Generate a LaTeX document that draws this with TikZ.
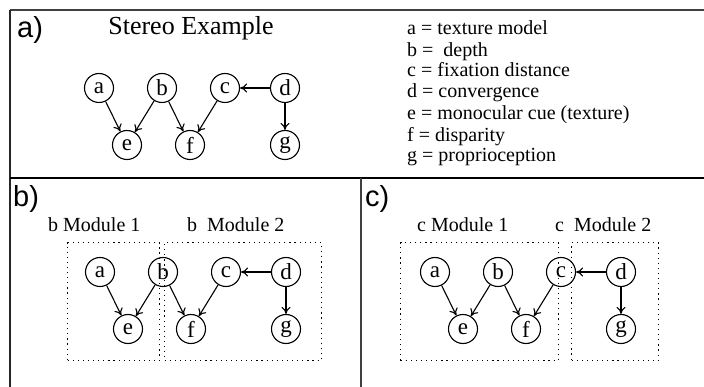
\documentclass[tikz,border=0pt]{standalone}
\usepackage{fontspec}
\setmainfont{Liberation Serif}
\newfontfamily\labfont{Liberation Sans}
\usetikzlibrary{arrows.meta}
\tikzset{
  vnode/.style={circle,draw,line width=1.1pt,minimum size=29pt,inner sep=0pt,font=\fontsize{23}{23}\selectfont},
  arr/.style={-{To[length=7pt,width=9pt]},line width=1.1pt},
  modbox/.style={draw,line width=1.1pt,dash pattern=on 1.2pt off 3.9pt},
  panlab/.style={anchor=base west,inner sep=0pt,font=\labfont\fontsize{29}{29}\selectfont},
  modlab/.style={anchor=base west,inner sep=0pt,font=\fontsize{20}{20}\selectfont},
  legend/.style={anchor=base west,inner sep=0pt,font=\fontsize{20}{20}\selectfont},
  net/.pic={
    \node[vnode] (-a) at (0,0) {a};
    \node[vnode] (-b) at (63,0) {b};
    \node[vnode] (-c) at (126,0) {c};
    \node[vnode] (-d) at (186,0) {d};
    \node[vnode] (-e) at (28,57) {e};
    \node[vnode] (-f) at (91,57) {f};
    \node[vnode] (-g) at (186,57) {g};
    \draw[arr] (-a) -- (-e);
    \draw[arr] (-b) -- (-e);
    \draw[arr] (-b) -- (-f);
    \draw[arr] (-c) -- (-f);
    \draw[arr] (-d) -- (-c);
    \draw[arr] (-d) -- (-g);
  }
}
\begin{document}
\begin{tikzpicture}[x=1pt,y=-1pt]
\useasboundingbox (0,0) rectangle (704,387);
% frame
\coordinate (tl) at (10,10);
\coordinate (tr) at (704,10);
\coordinate (bl) at (10,387);
\coordinate (sl) at (10,178);
\coordinate (sr) at (704,178);
\coordinate (dt) at (361,178);
\coordinate (db) at (361,387);
\draw[line width=1.5pt,black!75] (tl) -- (tr);
\draw[line width=1.5pt,black!85] (tl) -- (bl);
\draw[line width=2.4pt] (sl) -- (sr);
\draw[line width=1.4pt,black!75] (dt) -- (db);

% panel a
\node[panlab] (la) at (17,38) {a)};
\node[anchor=base,inner sep=0pt,font=\fontsize{26}{26}\selectfont] (title) at (191,35) {Stereo Example};
\pic (A) at (99,88) {net};
\node[legend] (l1) at (407,35) {a = texture model};
\node[legend] (l2) at (407,57) {b =~ depth};
\node[legend] (l3) at (407,77) {c = fixation distance};
\node[legend] (l4) at (407,98) {d = convergence};
\node[legend] (l5) at (407,120) {e = monocular cue (texture)};
\node[legend] (l6) at (407,142) {f = disparity};
\node[legend] (l7) at (407,162) {g = proprioception};

% panel b
\node[panlab] (lb) at (13,207) {b)};
\node[modlab] (bm1) at (48,232) {b Module 1};
\node[modlab] (bm2) at (187,232) {b~~Module 2};
\node[modbox,minimum width=92pt,minimum height=118pt,anchor=north west] (bbox1) at (67,242) {};
\node[modbox,minimum width=157pt,minimum height=118pt,anchor=north west] (bbox2) at (164,242) {};
\pic (B) at (100,272) {net};

% panel c
\node[panlab] (lc) at (365,207) {c)};
\node[modlab] (cm1) at (417,232) {c Module 1};
\node[modlab] (cm2) at (555,232) {c~~Module 2};
\node[modbox,minimum width=158pt,minimum height=118pt,anchor=north west] (cbox1) at (400,242) {};
\node[modbox,minimum width=87pt,minimum height=118pt,anchor=north west] (cbox2) at (571,242) {};
\pic (C) at (435,272) {net};
\end{tikzpicture}
\end{document}
